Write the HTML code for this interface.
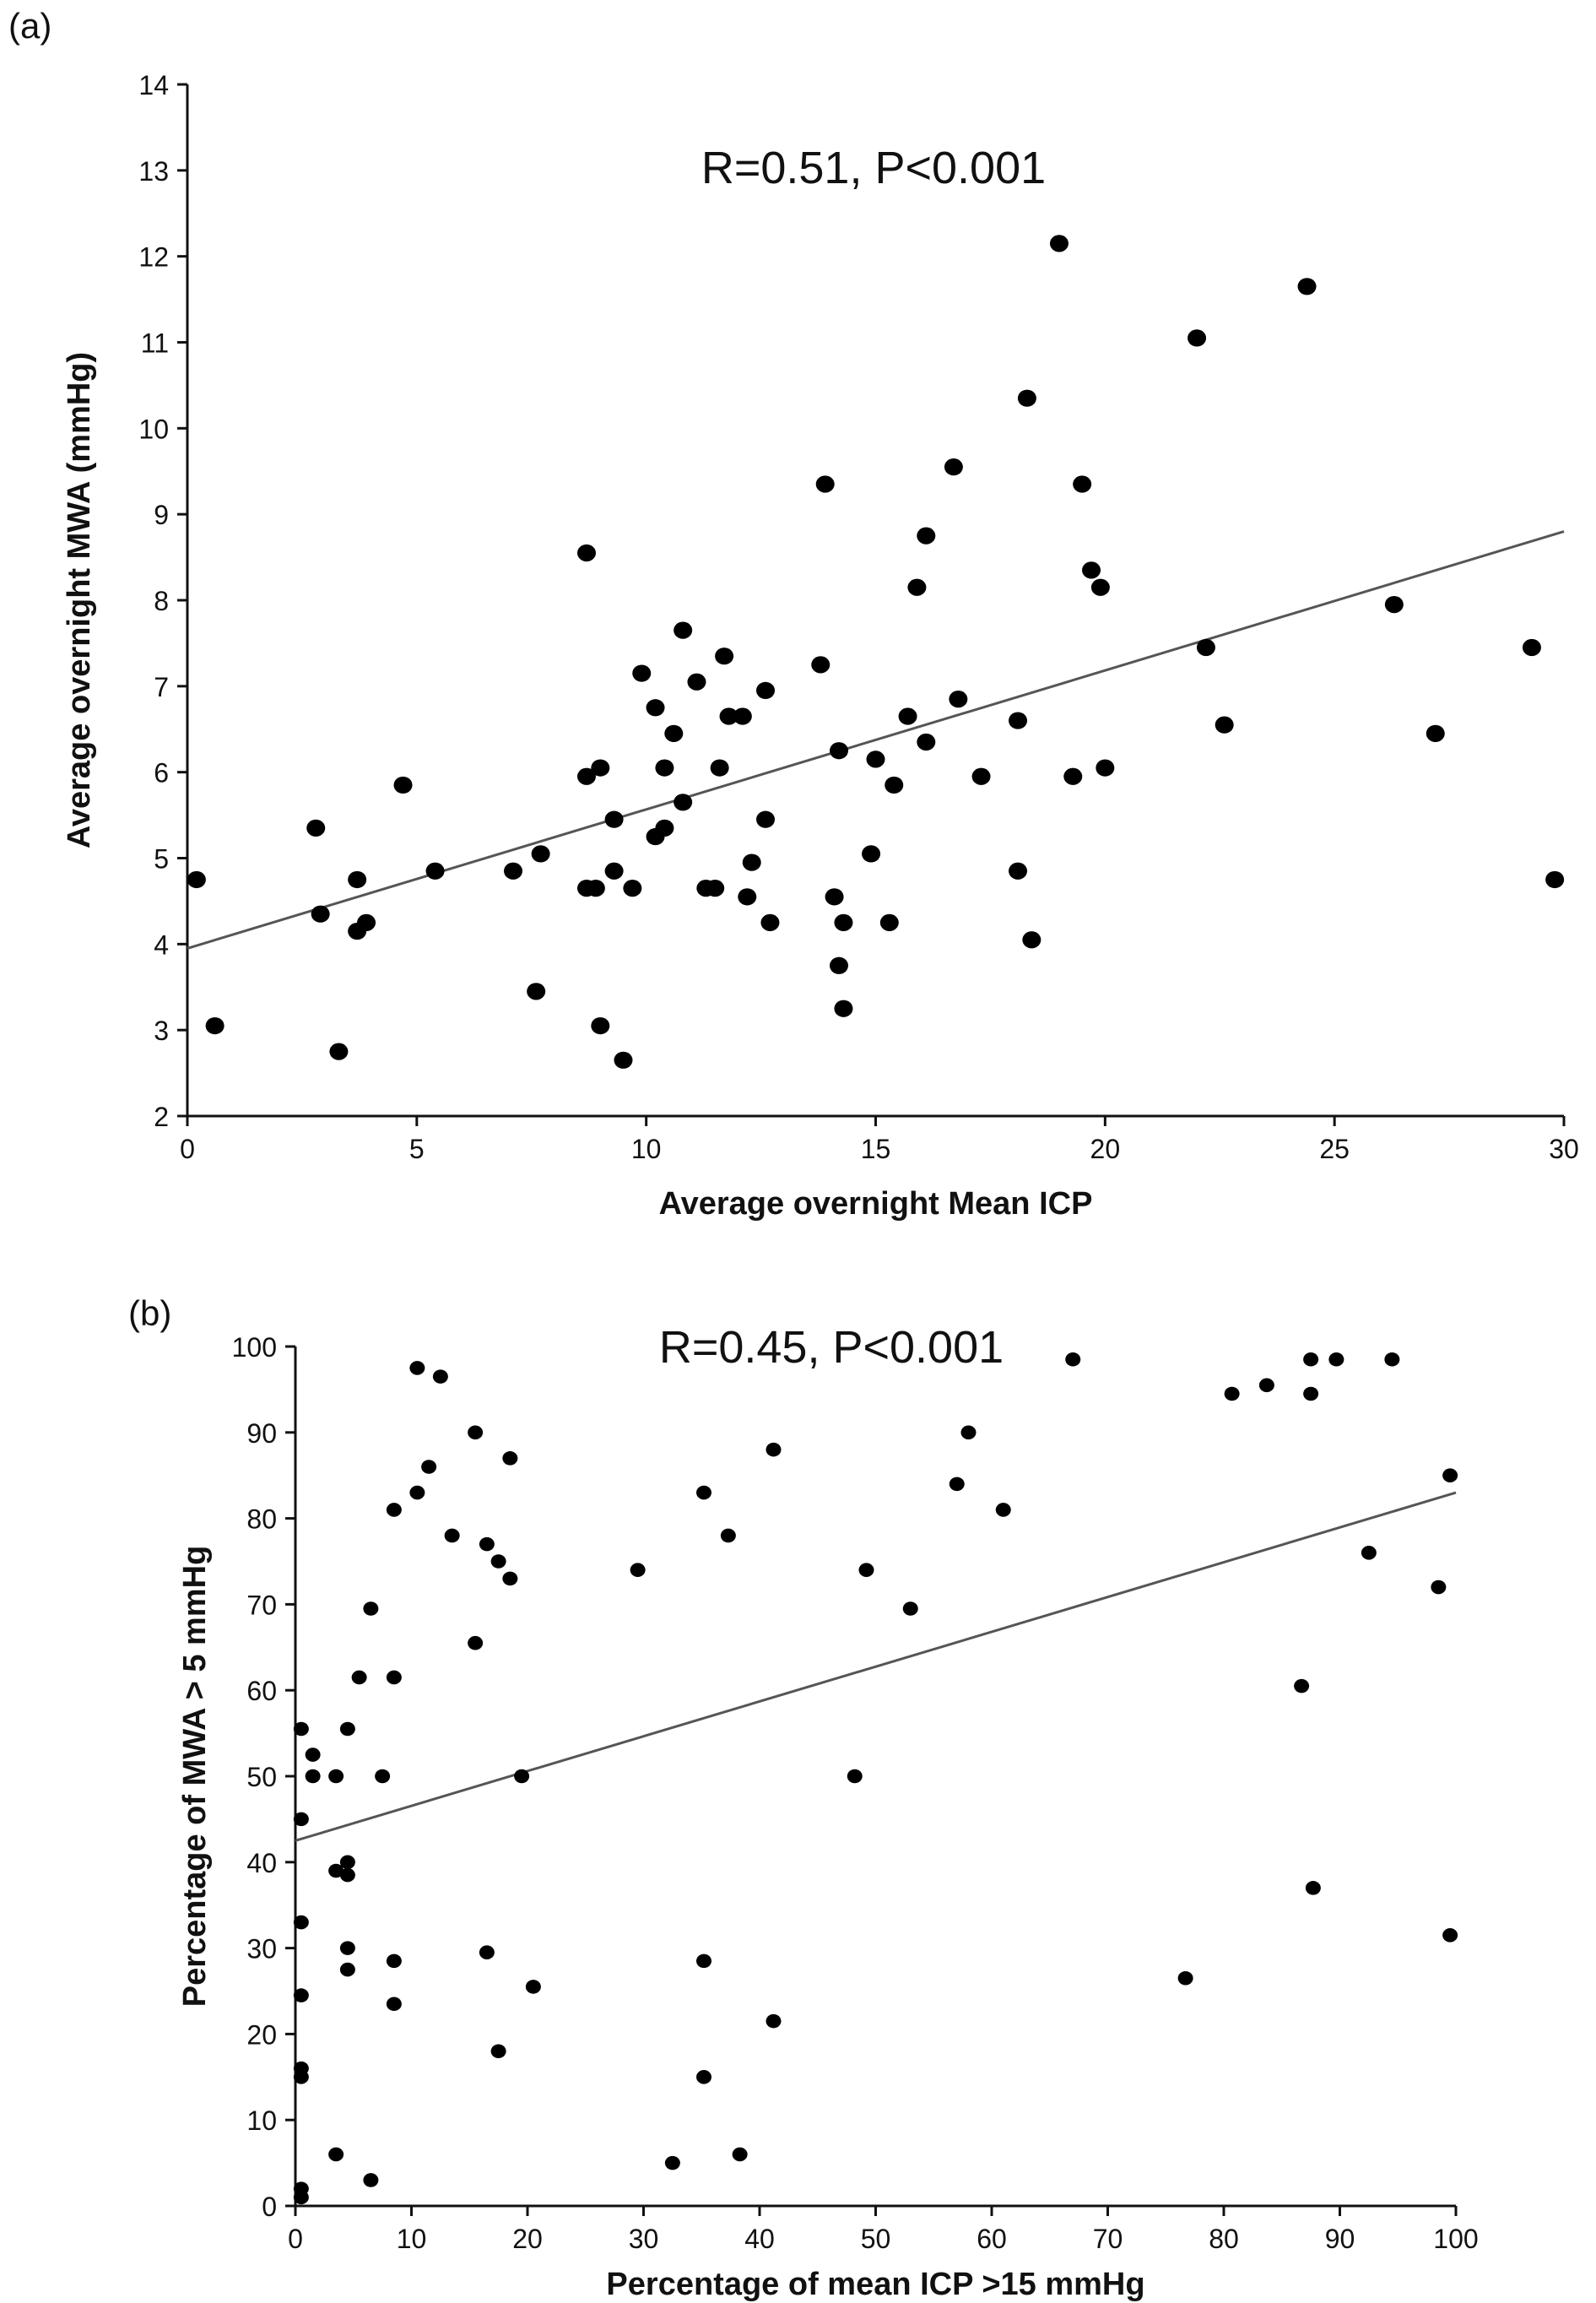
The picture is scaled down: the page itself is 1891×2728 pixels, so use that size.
<!DOCTYPE html>
<html><head><meta charset="utf-8"><style>
body{margin:0;background:#fff}
svg{display:block}
text{font-family:"Liberation Sans",Arial,sans-serif;fill:#111}
</style></head><body>
<svg id="c" width="1891" height="2728" viewBox="0 0 1891 2728"></svg>
<script>
const aX=[0.2,0.6,2.8,2.9,3.3,3.7,3.7,3.9,4.7,5.4,7.1,7.6,7.7,8.7,8.7,8.7,8.9,9.0,9.0,9.3,9.3,9.5,9.7,9.9,10.2,10.2,10.4,10.4,10.6,10.8,10.8,11.1,11.3,11.5,11.6,11.7,11.8,12.1,12.2,12.3,12.6,12.6,12.7,13.8,13.9,14.1,14.2,14.2,14.3,14.3,14.9,15.0,15.3,15.4,15.7,15.9,16.1,16.1,16.7,16.8,17.3,18.1,18.1,18.3,18.4,19.0,19.3,19.5,19.7,19.9,20.0,22.0,22.2,22.6,24.4,26.3,27.2,29.3,29.8];
const aY=[4.75,3.05,5.35,4.35,2.75,4.75,4.15,4.25,5.85,4.85,4.85,3.45,5.05,8.55,5.95,4.65,4.65,6.05,3.05,5.45,4.85,2.65,4.65,7.15,6.75,5.25,6.05,5.35,6.45,5.65,7.65,7.05,4.65,4.65,6.05,7.35,6.65,6.65,4.55,4.95,6.95,5.45,4.25,7.25,9.35,4.55,6.25,3.75,4.25,3.25,5.05,6.15,4.25,5.85,6.65,8.15,8.75,6.35,9.55,6.85,5.95,6.6,4.85,10.35,4.05,12.15,5.95,9.35,8.35,8.15,6.05,11.05,7.45,6.55,11.65,7.95,6.45,7.45,4.75];
const aFit=[3.95,8.8];
const aXTicks=[0,5,10,15,20,25,30];
const aYTicks=[2,3,4,5,6,7,8,9,10,11,12,13,14];
const bX=[0.5,0.5,0.5,0.5,0.5,0.5,0.5,0.5,1.5,1.5,3.5,3.5,3.5,4.5,4.5,4.5,4.5,4.5,5.5,6.5,6.5,7.5,8.5,8.5,8.5,8.5,10.5,10.5,11.5,12.5,13.5,15.5,15.5,16.5,16.5,17.5,17.5,18.5,18.5,19.5,20.5,29.5,32.5,35.2,35.2,35.2,37.3,38.3,41.2,41.2,48.2,49.2,53.0,57.0,58.0,61.0,67.0,76.7,80.7,83.7,87.5,87.5,86.7,87.7,89.7,92.5,94.5,98.5,99.5,99.5];
const bY=[55.5,45,33,24.5,16,15,2,1,52.5,50,50,39,6,55.5,40,38.5,30,27.5,61.5,69.5,3,50,81,61.5,28.5,23.5,97.5,83,86,96.5,78,90,65.5,77,29.5,75,18,87,73,50,25.5,74,5,83,28.5,15,78,6,88,21.5,50,74,69.5,84,90,81,98.5,26.5,94.5,95.5,98.5,94.5,60.5,37,98.5,76,98.5,72,85,31.5];
const bFit=[42.5,83];
const bXTicks=[0,10,20,30,40,50,60,70,80,90,100];
const bYTicks=[0,10,20,30,40,50,60,70,80,90,100];

const S=document.getElementById('c');
const NS='http://www.w3.org/2000/svg';
function mk(t,a,p){const e=document.createElementNS(NS,t);for(const k in a)e.setAttribute(k,a[k]);(p||S).appendChild(e);return e;}

function panel(o){
  const g=mk('g',{});
  
  
  const sx=v=>o.L+(v-o.x0)/(o.x1-o.x0)*(o.R-o.L);
  const sy=v=>o.B-(v-o.y0)/(o.y1-o.y0)*(o.B-o.T);
  const ax=mk('path',{d:`M${o.L},${o.T}V${o.B}H${o.R}`,stroke:'#111','stroke-width':3,fill:'none'},g);
  
  
  o.xt.forEach(v=>{
    mk('line',{x1:sx(v),x2:sx(v),y1:o.B,y2:o.B+12,stroke:'#111','stroke-width':3},g);
    const t=mk('text',{x:sx(v),y:o.B+50,'text-anchor':'middle','font-size':o.fs},g);
    t.textContent=v;
    
    
  });
  o.yt.forEach(v=>{
    mk('line',{x1:o.L-12,x2:o.L,y1:sy(v),y2:sy(v),stroke:'#111','stroke-width':3},g);
    const t=mk('text',{x:o.L-22,y:sy(v)+12,'text-anchor':'end','font-size':o.fs},g);
    t.textContent=v;
    
    
  });
  const f=mk('line',{x1:sx(o.x0),y1:sy(o.fit[0]),x2:sx(o.x1),y2:sy(o.fit[1]),stroke:'#555','stroke-width':3},g);
  
  
  o.xs.forEach((v,i)=>{
    const c=mk('ellipse',{cx:sx(v),cy:sy(o.ys[i]),rx:o.r,ry:o.r*0.92,fill:'#000'},g);
    
    
  });
  const xt=mk('text',{x:(o.L+o.R)/2,y:o.xtY,'text-anchor':'middle','font-size':38,'font-weight':'bold'},g);
  xt.textContent=o.xTitle;
  
  
  const yt=mk('text',{x:0,y:0,'text-anchor':'middle','font-size':38,'font-weight':'bold',transform:`translate(${o.ytX},${(o.T+o.B)/2}) rotate(-90)`},g);
  yt.textContent=o.yTitle;
  
  
  const st=mk('text',{x:o.stX,y:o.stY,'text-anchor':'middle','font-size':54},g);
  st.textContent=o.stat;
  
  
  const pl=mk('text',{x:o.plX,y:o.plY,'font-size':42},g);
  pl.textContent=o.label;
  
  
}
panel({name:'panel-a',L:222,R:1853,T:100,B:1322,x0:0,x1:30,y0:2,y1:14,xs:aX,ys:aY,fit:aFit,xt:aXTicks,yt:aYTicks,fs:32,r:11,
  xTitle:'Average overnight Mean ICP',xtY:1438,yTitle:'Average overnight MWA (mmHg)',ytX:106,
  stat:'R=0.51, P<0.001',stX:1035,stY:217,label:'(a)',plX:10,plY:45});
panel({name:'panel-b',L:350,R:1725,T:1595,B:2613,x0:0,x1:100,y0:0,y1:100,xs:bX,ys:bY,fit:bFit,xt:bXTicks,yt:bYTicks,fs:32,r:9,
  xTitle:'Percentage of mean ICP >15 mmHg',xtY:2718,yTitle:'Percentage of MWA > 5 mmHg',ytX:243,
  stat:'R=0.45, P<0.001',stX:985,stY:1614,label:'(b)',plX:152,plY:1570});
</script>
</body></html>
